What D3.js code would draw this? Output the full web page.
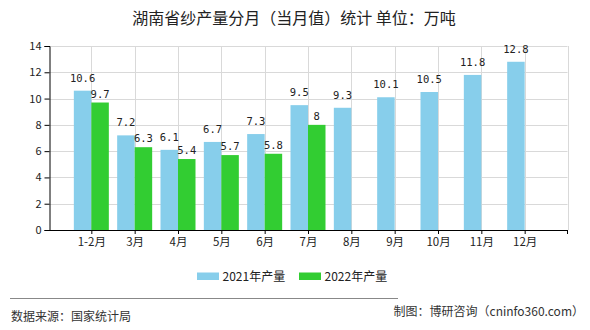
<!DOCTYPE html>
<html><head><meta charset="utf-8">
<script src="https://cdn.jsdelivr.net/npm/d3@7"></script>
<style>body{margin:0;background:#fff}svg{display:block}</style>
</head><body><svg id="c" width="590" height="330"></svg>
<script>
const categories = ["1-2月","3月","4月","5月","6月","7月","8月","9月","10月","11月","12月"];
const values2021 = [10.6,7.2,6.1,6.7,7.3,9.5,9.3,10.1,10.5,11.8,12.8];
const values2022 = [9.7,6.3,5.4,5.7,5.8,8];
const yTicks = [0,2,4,6,8,10,12,14];
const seriesNames = ["2021年产量","2022年产量"];
const colors = ["#87CEEB","#32CD32"];

const svg = d3.select("#c");
const font = "'Noto Sans CJK SC', 'DejaVu Sans', sans-serif";
const mono = "'DejaVu Sans Mono', 'Liberation Mono', monospace";
const L = 49.5, R = 567.5, T = 46, B = 230;
const x = d3.scalePoint().domain(categories).range([48, 568]).padding(1);
const y = d3.scaleLinear().domain([0,14]).range([B, T]);
const bw = 17.5;

svg.append("text").attr("x",294).attr("y",24).attr("text-anchor","middle")
  .attr("font-family",font).attr("font-size",16).attr("fill","#222")
  .text("湖南省纱产量分月（当月值）统计 单位：万吨");

// grid
const g = svg.append("g");
g.selectAll("line.h").data(yTicks.filter(d=>d>0)).join("line")
  .attr("x1",L).attr("x2",R).attr("y1",d=>Math.round(y(d))+0.5).attr("y2",d=>Math.round(y(d))+0.5)
  .attr("stroke","#d9d9d9").attr("stroke-width",1);
const vx = categories.map(c=>x(c)).concat([R]);
g.selectAll("line.v").data(vx).join("line")
  .attr("x1",d=>Math.round(d)+0.5).attr("x2",d=>Math.round(d)+0.5).attr("y1",T).attr("y2",B)
  .attr("stroke","#d9d9d9").attr("stroke-width",1);

// bars
svg.append("g").selectAll("rect").data(values2021).join("rect")
  .attr("x",(d,i)=>x(categories[i])-bw).attr("width",bw)
  .attr("y",d=>y(d)).attr("height",d=>B-y(d)).attr("fill",colors[0]);
svg.append("g").selectAll("rect").data(values2022).join("rect")
  .attr("x",(d,i)=>x(categories[i])).attr("width",bw)
  .attr("y",d=>y(d)).attr("height",d=>B-y(d)).attr("fill",colors[1]);

// value labels
svg.append("g").selectAll("text").data(values2021).join("text")
  .attr("x",(d,i)=>x(categories[i])-bw/2).attr("y",d=>y(d)-9)
  .attr("text-anchor","middle").attr("font-family",mono).attr("font-size",10.5).attr("fill","#222")
  .text(d=>d);
svg.append("g").selectAll("text").data(values2022).join("text")
  .attr("x",(d,i)=>x(categories[i])+bw/2).attr("y",d=>y(d)-5)
  .attr("text-anchor","middle").attr("font-family",mono).attr("font-size",10.5).attr("fill","#222")
  .text(d=>d);

// axes
const ya = svg.append("g").attr("transform",`translate(${L},0)`)
  .call(d3.axisLeft(y).tickValues(yTicks).tickSize(5).tickPadding(3));
ya.select(".domain").attr("stroke","#000");
ya.selectAll("text").attr("font-family",font).attr("font-size",11).attr("fill","#222");
const xa = svg.append("g").attr("transform",`translate(0,${B})`)
  .call(d3.axisBottom(x).tickSize(4).tickPadding(4).tickSizeOuter(0));
xa.select(".domain").attr("stroke","#000").attr("d",`M${L},0.5H${R}`);
xa.selectAll("text").attr("font-family",font).attr("font-size",11.5).attr("fill","#222");
xa.append("line").attr("x1",R).attr("x2",R).attr("y1",0).attr("y2",4).attr("stroke","#000");

// legend
const leg = svg.append("g");
const lx = [197, 299];
seriesNames.forEach((n,i)=>{
  leg.append("rect").attr("x",lx[i]).attr("y",272.5).attr("width",22).attr("height",7.5).attr("fill",colors[i]);
  leg.append("text").attr("x",lx[i]+25.5).attr("y",281).attr("font-family",font).attr("font-size",12)
    .attr("fill","#222").text(n);
});

// footer
svg.append("line").attr("x1",10).attr("x2",398).attr("y1",298.5).attr("y2",298.5).attr("stroke","#888");
svg.append("text").attr("x",11).attr("y",321).attr("font-family",font).attr("font-size",12).attr("fill","#333").text("数据来源：国家统计局");
svg.append("text").attr("x",584).attr("y",316).attr("text-anchor","end").attr("font-family",font).attr("font-size",12).attr("fill","#333").text("制图：博研咨询（cninfo360.com）");
</script></body></html>
